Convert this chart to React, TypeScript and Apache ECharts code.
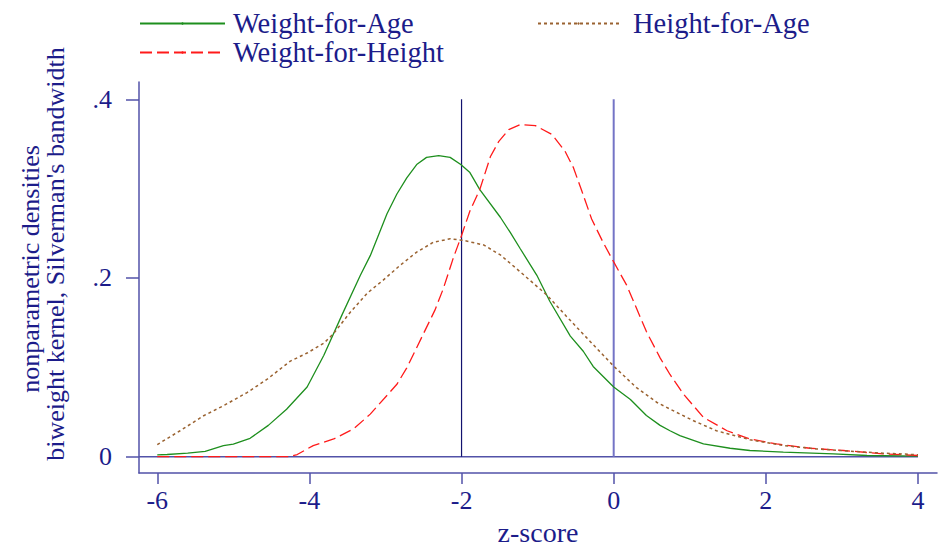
import React, { useEffect, useRef } from "react";
import * as echarts from "echarts";

// ---- data ----
const wfaX = [-6.0, -5.87, -5.6, -5.37, -5.13, -5.0, -4.78, -4.54, -4.3, -4.03, -3.81, -3.57, -3.33, -3.2, -2.98, -2.85, -2.72, -2.59, -2.46, -2.3, -2.15, -2.01, -1.89, -1.76, -1.49, -1.36, -1.23, -1.01, -0.84, -0.57, -0.4, -0.27, 0.0, 0.22, 0.43, 0.61, 0.74, 0.87, 1.18, 1.53, 1.79, 2.23, 2.89, 3.33, 4.0];
const wfaY = [0.002, 0.0024, 0.004, 0.006, 0.0124, 0.014, 0.0205, 0.035, 0.053, 0.078, 0.1135, 0.159, 0.203, 0.225, 0.272, 0.294, 0.312, 0.327, 0.335, 0.337, 0.335, 0.327, 0.318, 0.299, 0.268, 0.251, 0.233, 0.203, 0.174, 0.135, 0.118, 0.101, 0.078, 0.064, 0.046, 0.035, 0.029, 0.0235, 0.0142, 0.0094, 0.0069, 0.005, 0.003, 0.0013, 0.0006];

const wfhX = [-6.0, -5.0, -4.27, -4.16, -3.95, -3.68, -3.42, -3.2, -2.85, -2.72, -2.59, -2.35, -2.24, -2.11, -2.0, -1.89, -1.76, -1.62, -1.51, -1.38, -1.23, -1.03, -0.81, -0.64, -0.53, -0.42, -0.29, -0.14, 0.0, 0.17, 0.3, 0.43, 0.61, 0.74, 0.92, 1.18, 1.49, 1.79, 2.14, 2.58, 3.02, 3.54, 4.0];
const wfhY = [0, 0, 0, 0.0024, 0.0124, 0.0198, 0.031, 0.0476, 0.081, 0.0994, 0.122, 0.164, 0.188, 0.222, 0.2476, 0.275, 0.299, 0.336, 0.353, 0.366, 0.3717, 0.3706, 0.3606, 0.342, 0.3236, 0.2976, 0.266, 0.24, 0.218, 0.192, 0.166, 0.14, 0.1106, 0.092, 0.0698, 0.0439, 0.029, 0.0198, 0.0142, 0.0094, 0.0069, 0.0031, 0.0013];

const hfaX = [-6.0, -5.7, -5.39, -5.13, -4.82, -4.56, -4.25, -4.03, -3.81, -3.68, -3.46, -3.24, -3.03, -2.81, -2.59, -2.37, -2.15, -1.97, -1.71, -1.49, -1.23, -0.88, -0.62, -0.31, 0.0, 0.3, 0.57, 0.83, 1.05, 1.35, 1.79, 2.23, 2.67, 3.11, 3.54, 4.0];
const hfaY = [0.0135, 0.029, 0.0458, 0.057, 0.0717, 0.0864, 0.107, 0.116, 0.127, 0.138, 0.162, 0.183, 0.1976, 0.214, 0.229, 0.24, 0.2439, 0.242, 0.237, 0.2258, 0.207, 0.181, 0.157, 0.129, 0.1013, 0.0772, 0.0606, 0.0494, 0.0402, 0.029, 0.019, 0.0124, 0.0087, 0.0061, 0.0039, 0.0022];

const seriesNames = ["Weight-for-Age", "Weight-for-Height", "Height-for-Age"];
const xTicks = [-6, -4, -2, 0, 2, 4];
const yTicks = [0, 0.2, 0.4];
const yTickLabels = ["0", ".2", ".4"];
const refLinesX = [-2, 0];
const refTop = 0.4;
const xRange = [-6.24, 4.25];
const yRange = [-0.0183, 0.4194];
const xTitle = "z-score";
const yTitleLines = ["nonparametric densities", "biweight kernel, Silverman's bandwidth"];

const zip = (xs: number[], ys: number[]) => xs.map((x, i) => [x, ys[i]]);

const FONT = "'Liberation Serif', 'DejaVu Serif', serif";
const TEXT = "#1c1c8a";
const AXIS = "#5252a8";

export default function App() {
  const ref = useRef<HTMLDivElement>(null);
  useEffect(() => {
    if (!ref.current) return;
    const chart = echarts.init(ref.current, null, { renderer: "svg" });
    const legendText = (padLeft: number) => ({ color: TEXT, fontFamily: FONT, fontSize: 28.5, padding: [0, 0, 0, padLeft] });
    const legendBase = { padding: 0, itemHeight: 3, selectedMode: false };
    chart.setOption({
      animation: false,
      backgroundColor: "#ffffff",
      grid: { left: 139, top: 82, right: 1, bottom: 75, containLabel: false },
      legend: [
        { ...legendBase, data: [seriesNames[0]], left: 139, top: 9, itemWidth: 85, textStyle: legendText(3) },
        { ...legendBase, data: [seriesNames[1]], left: 139, top: 38, itemWidth: 85, textStyle: legendText(3) },
        { ...legendBase, data: [seriesNames[2]], left: 537, top: 9, itemWidth: 81, textStyle: legendText(9) },
      ],
      xAxis: {
        type: "value",
        min: xRange[0],
        max: xRange[1],
        axisLine: { show: true, onZero: false, lineStyle: { color: AXIS, width: 1.5 } },
        axisTick: { show: true, customValues: xTicks, length: 11, lineStyle: { color: AXIS, width: 1.5 } },
        axisLabel: { customValues: xTicks, margin: 14, fontSize: 26, color: TEXT, fontFamily: FONT },
        splitLine: { show: false },
        name: xTitle,
        nameLocation: "middle",
        nameGap: 45,
        nameTextStyle: { color: TEXT, fontFamily: FONT, fontSize: 28 },
      },
      yAxis: {
        type: "value",
        min: yRange[0],
        max: yRange[1],
        axisLine: { show: true, onZero: false, lineStyle: { color: AXIS, width: 1.5 } },
        axisTick: { show: true, customValues: yTicks, length: 13, lineStyle: { color: AXIS, width: 1.5 } },
        axisLabel: {
          customValues: yTicks,
          margin: 27,
          fontSize: 26,
          color: TEXT,
          fontFamily: FONT,
          formatter: (v: number) => {
            const i = yTicks.findIndex((t) => Math.abs(t - v) < 1e-9);
            return i >= 0 ? yTickLabels[i] : "";
          },
        },
        splitLine: { show: false },
      },
      graphic: [
        {
          type: "text",
          x: 30,
          y: 269,
          rotation: Math.PI / 2,
          style: { text: yTitleLines[0], fill: TEXT, fontFamily: FONT, fontSize: 26, align: "center", verticalAlign: "middle" },
        },
        {
          type: "text",
          x: 55,
          y: 254,
          rotation: Math.PI / 2,
          style: { text: yTitleLines[1], fill: TEXT, fontFamily: FONT, fontSize: 26, align: "center", verticalAlign: "middle" },
        },
      ],
      series: [
        {
          name: "zero",
          type: "line",
          data: [[xRange[0], 0], [xTicks[xTicks.length - 1], 0]],
          symbol: "none",
          silent: true,
          lineStyle: { color: AXIS, width: 1.5 },
        },
        {
          name: "ref-2",
          type: "line",
          data: [[refLinesX[0], 0], [refLinesX[0], refTop]],
          symbol: "none",
          silent: true,
          lineStyle: { color: "#12126e", width: 1.2 },
        },
        {
          name: "ref0",
          type: "line",
          data: [[refLinesX[1], 0], [refLinesX[1], refTop]],
          symbol: "none",
          silent: true,
          lineStyle: { color: "#7474c6", width: 2 },
        },
        {
          name: seriesNames[0],
          type: "line",
          data: zip(wfaX, wfaY),
          symbol: "none",
          itemStyle: { color: "#1e8f1e" },
          lineStyle: { color: "#1e8f1e", width: 1.3, type: "solid" },
        },
        {
          name: seriesNames[1],
          type: "line",
          data: zip(wfhX, wfhY),
          symbol: "none",
          itemStyle: { color: "#ff1a1a" },
          lineStyle: { color: "#ff1a1a", width: 1.3, type: [12, 5] },
        },
        {
          name: seriesNames[2],
          type: "line",
          data: zip(hfaX, hfaY),
          symbol: "none",
          itemStyle: { color: "#9a6230" },
          lineStyle: { color: "#9a6230", width: 1.5, type: [3, 3] },
        },
      ],
    });
    return () => chart.dispose();
  }, []);
  return (
    <div
      ref={ref}
      style={{ position: "fixed", left: 0, top: 0, width: 938, height: 551, background: "#fff" }}
    />
  );
}
